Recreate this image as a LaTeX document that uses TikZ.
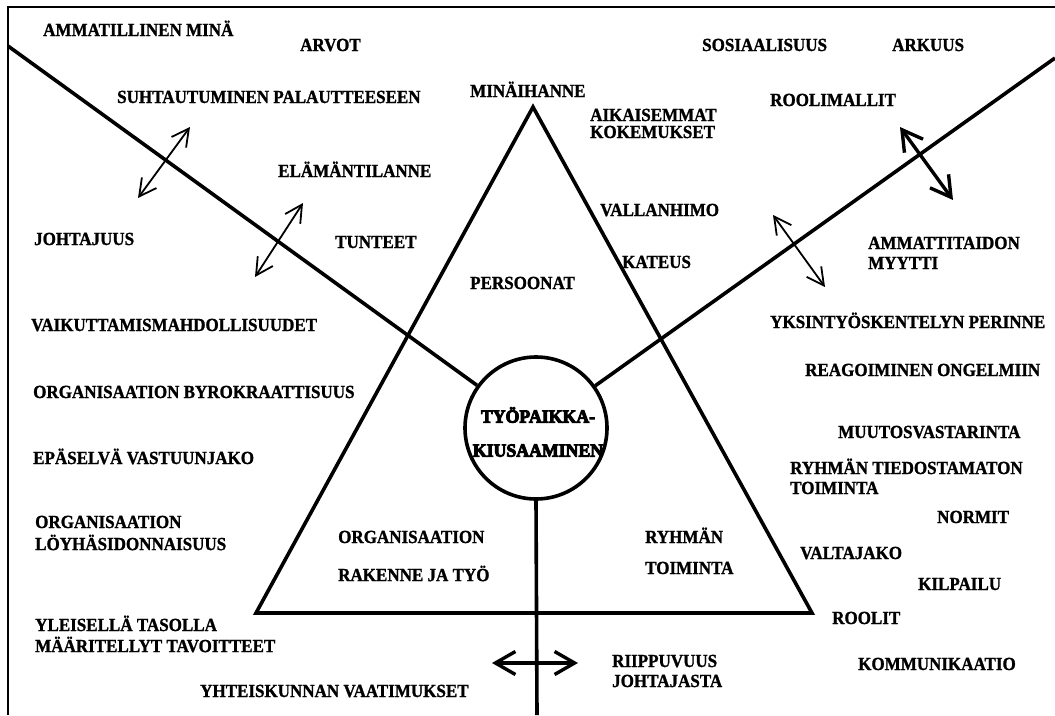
\documentclass[tikz,border=0pt]{standalone}
\usepackage{fontspec}
\setmainfont{Liberation Serif}[FakeStretch=0.92, BoldFeatures={FakeBold=1.2}]
\newfontfamily\heavyfont{Liberation Serif}[FakeStretch=0.96, FakeBold=5]
\usetikzlibrary{arrows.meta}
\newcommand{\lblfont}{\fontsize{18.5}{19}\selectfont\bfseries}
\newcommand{\twolines}[3]{\begin{tabular}[t]{@{}l@{}}#1\\[#3]#2\end{tabular}}
\begin{document}
\begin{tikzpicture}[x=1pt,y=-1pt,
  lbl/.style={anchor=base west, inner sep=0pt, font=\lblfont},
  mainline/.style={line width=3.6pt, line join=miter},
  frameline/.style={line width=1.2pt},
  thinarrow/.style={line width=1.8pt, {Straight Barb[length=17pt,width=18pt]}-{Straight Barb[length=17pt,width=18pt]}},
  thickarrow/.style={line width=3.4pt, {Straight Barb[length=20pt,width=23pt]}-{Straight Barb[length=20pt,width=23pt]}}]
\useasboundingbox (0,0) rectangle (1055,715);
\fill[white] (0,0) rectangle (1055,715);

% open frame: top and left edges only
\coordinate (ftl) at (8,7);
\coordinate (ftr) at (1055,7);
\coordinate (fbl) at (8,715);
\draw[frameline] (ftr) -- (ftl) -- (fbl);

% triangle of the three factor groups
\coordinate (tapex) at (533,107);
\coordinate (tleft) at (256,613);
\coordinate (tright) at (812,613);
\draw[mainline] (tapex) -- (tleft) -- (tright) -- cycle;

% central circle
\node[circle, draw, line width=3.6pt, minimum size=142pt, inner sep=0pt, fill=white] (c) at (536,428) {};
\node[font=\fontsize{18.5}{19}\selectfont\heavyfont\bfseries, align=center, inner sep=0pt] (ctext) at (538,432) {TYÖPAIKKA-\\[15pt]KIUSAAMINEN};

% dividing lines
\coordinate (dl) at (8,46);
\coordinate (dr) at (1055,58);
\coordinate (db) at (537,715);
\draw[mainline] (dl) -- (c);
\draw[mainline] (dr) -- (c);
\draw[mainline] (c.south) -- (db);

% interaction arrows across the dividing lines
\coordinate (a1s) at (138,198); \coordinate (a1e) at (190,127);
\coordinate (a2s) at (255,277); \coordinate (a2e) at (303,203);
\coordinate (a3s) at (900,127); \coordinate (a3e) at (953,200);
\coordinate (a4s) at (773,215); \coordinate (a4e) at (825,287);
\coordinate (a5s) at (492,663); \coordinate (a5e) at (578,663);
\draw[thinarrow] (a1s) -- (a1e);
\draw[thinarrow] (a2s) -- (a2e);
\draw[thickarrow] (a3s) -- (a3e);
\draw[thinarrow] (a4s) -- (a4e);
\draw[thickarrow] (a5s) -- (a5e);

% labels
\node[lbl] (t1) at (43,36) {AMMATILLINEN MINÄ};
\node[lbl] (t2) at (300,51) {ARVOT};
\node[lbl] (t3) at (702,51) {SOSIAALISUUS};
\node[lbl] (t4) at (892,51) {ARKUUS};
\node[lbl] (t5) at (470,97) {MINÄIHANNE};
\node[lbl] (t6) at (117,103) {SUHTAUTUMINEN PALAUTTEESEEN};
\node[lbl] (t7) at (590,121) {\twolines{AIKAISEMMAT}{KOKEMUKSET}{-2pt}};
\node[lbl] (t8) at (770,106) {ROOLIMALLIT};
\node[lbl] (t9) at (278,177) {ELÄMÄNTILANNE};
\node[lbl] (t10) at (335,248) {TUNTEET};
\node[lbl] (t11) at (34,245) {JOHTAJUUS};
\node[lbl] (t12) at (600,216) {VALLANHIMO};
\node[lbl] (t13) at (622,268) {KATEUS};
\node[lbl] (t14) at (868,249) {\twolines{AMMATTITAIDON}{MYYTTI}{1pt}};
\node[lbl] (t15) at (470,289) {PERSOONAT};
\node[lbl] (t16) at (31,331) {VAIKUTTAMISMAHDOLLISUUDET};
\node[lbl] (t17) at (770,328) {YKSINTYÖSKENTELYN PERINNE};
\node[lbl] (t18) at (33,398) {ORGANISAATION BYROKRAATTISUUS};
\node[lbl] (t19) at (805,376) {REAGOIMINEN ONGELMIIN};
\node[lbl] (t20) at (838,438) {MUUTOSVASTARINTA};
\node[lbl] (t21) at (33,464) {EPÄSELVÄ VASTUUNJAKO};
\node[lbl] (t22) at (790,474) {\twolines{RYHMÄN TIEDOSTAMATON}{TOIMINTA}{1pt}};
\node[lbl] (t23) at (35,528) {\twolines{ORGANISAATION}{LÖYHÄSIDONNAISUUS}{1pt}};
\node[lbl] (t24) at (937,523) {NORMIT};
\node[lbl] (t25) at (338,543) {\twolines{ORGANISAATION}{RAKENNE JA TYÖ}{17pt}};
\node[lbl] (t26) at (645,543) {\twolines{RYHMÄN}{TOIMINTA}{12pt}};
\node[lbl] (t27) at (800,559) {VALTAJAKO};
\node[lbl] (t28) at (918,590) {KILPAILU};
\node[lbl] (t29) at (832,624) {ROOLIT};
\node[lbl] (t30) at (35,631) {\twolines{YLEISELLÄ TASOLLA}{MÄÄRITELLYT TAVOITTEET}{0pt}};
\node[lbl] (t31) at (200,697) {YHTEISKUNNAN VAATIMUKSET};
\node[lbl] (t32) at (612,667) {\twolines{RIIPPUVUUS}{JOHTAJASTA}{1pt}};
\node[lbl] (t33) at (858,670) {KOMMUNIKAATIO};
\end{tikzpicture}
\end{document}
